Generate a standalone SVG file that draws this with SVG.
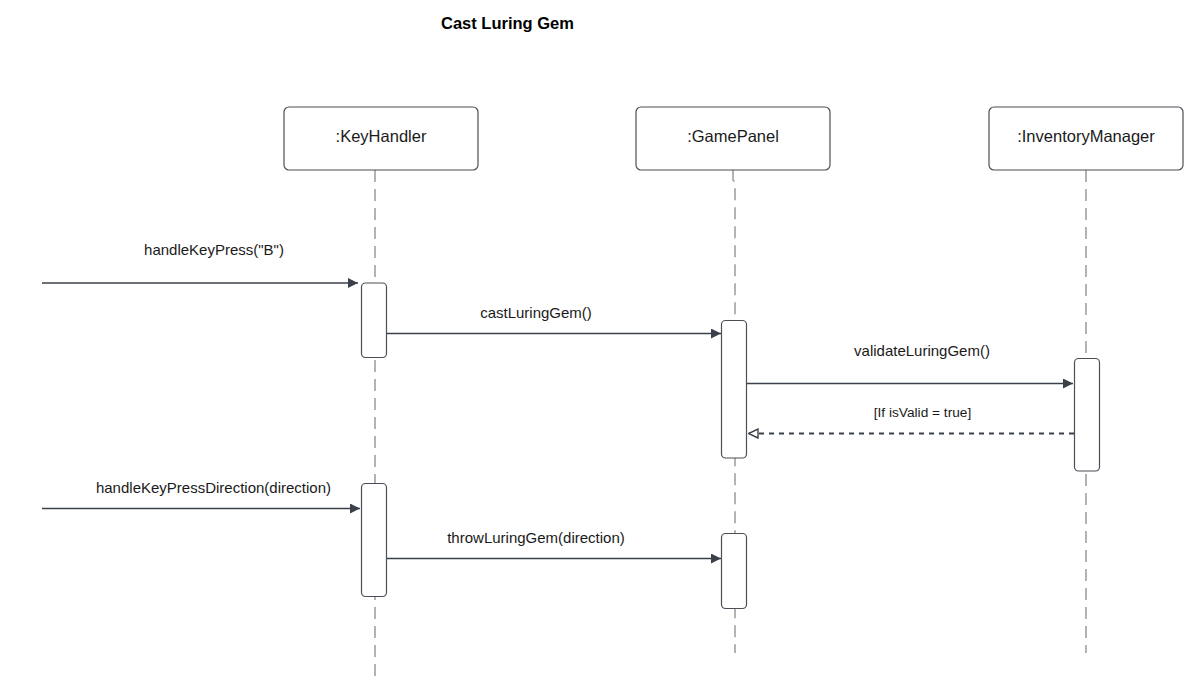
<svg xmlns="http://www.w3.org/2000/svg" width="1190" height="682" viewBox="0 0 1190 682">
<defs>
<marker id="filled" viewBox="0 0 10 10" refX="10" refY="5" markerWidth="10" markerHeight="10" markerUnits="userSpaceOnUse" orient="auto">
<path d="M0,0 L10,5 L0,10 Z" fill="#3a414a"/>
</marker>
<marker id="open" viewBox="0 0 12 12" refX="11" refY="6" markerWidth="12" markerHeight="12" markerUnits="userSpaceOnUse" orient="auto">
<path d="M1.5,1.5 L11,6 L1.5,10.5 Z" fill="#ffffff" stroke="#3a414a" stroke-width="1.4"/>
</marker>
<style>
.box{fill:#ffffff;stroke:#4a4f57;stroke-width:1.2}
.act{fill:#ffffff;stroke:#4a4f57;stroke-width:1.2}
.life{fill:none;stroke:#9a9a9a;stroke-width:1.5;stroke-dasharray:12 7}
.msg{fill:none;stroke:#3a414a;stroke-width:1.3}
.ret{fill:none;stroke:#3a414a;stroke-width:1.8;stroke-dasharray:5 5}
.lbl{font-family:"Liberation Sans",Arial,sans-serif;font-size:15px;fill:#1a1a1a;text-anchor:middle}
.nl{font-family:"Liberation Sans",Arial,sans-serif;font-size:16.5px;fill:#1a1a1a;text-anchor:middle}
.title{font-family:"Liberation Sans",Arial,sans-serif;font-size:16.5px;font-weight:bold;fill:#000000}
</style>
</defs>
<rect width="1190" height="682" fill="#ffffff"/>
<text class="title" x="441" y="29">Cast Luring Gem</text>

<g id="lifelines">
<path class="life" d="M375,170 V682"/>
<path class="life" d="M733,170 V180 L735,182 V653"/>
<path class="life" d="M1086,170 V653"/>
</g>

<g id="KeyHandler">
<rect class="box" x="284" y="107" width="194" height="63" rx="5"/>
<text class="nl" x="381" y="142">:KeyHandler</text>
</g>
<g id="GamePanel">
<rect class="box" x="636" y="107" width="194" height="63" rx="5"/>
<text class="nl" x="733" y="142">:GamePanel</text>
</g>
<g id="InventoryManager">
<rect class="box" x="989" y="107" width="194" height="63" rx="5"/>
<text class="nl" x="1086" y="142">:InventoryManager</text>
</g>

<g id="activations">
<rect class="act" x="361.5" y="283" width="25" height="74.5" rx="4"/>
<rect class="act" x="721.5" y="320.5" width="25" height="137.5" rx="4"/>
<rect class="act" x="1074.5" y="358.5" width="25" height="112.5" rx="4"/>
<rect class="act" x="361.5" y="483.5" width="25" height="113" rx="4"/>
<rect class="act" x="721.5" y="533.5" width="25" height="75" rx="4"/>
</g>

<g id="connectors">
<path class="msg" d="M42,283 H358" marker-end="url(#filled)"/>
<path class="msg" d="M387,333.5 H721" marker-end="url(#filled)"/>
<path class="msg" d="M747,383.5 H1073" marker-end="url(#filled)"/>
<path class="ret" d="M1074,433.5 H748.5" marker-end="url(#open)"/>
<path class="msg" d="M42,508.5 H360" marker-end="url(#filled)"/>
<path class="msg" d="M387,558.5 H721" marker-end="url(#filled)"/>
</g>

<g id="labels">
<text class="lbl" x="214" y="255">handleKeyPress("B")</text>
<text class="lbl" x="536" y="318">castLuringGem()</text>
<text class="lbl" x="922" y="356">validateLuringGem()</text>
<text class="lbl" x="922.5" y="417" style="font-size:13.7px">[If isValid = true]</text>
<text class="lbl" x="213.5" y="493">handleKeyPressDirection(direction)</text>
<text class="lbl" x="536" y="543">throwLuringGem(direction)</text>
</g>
</svg>
